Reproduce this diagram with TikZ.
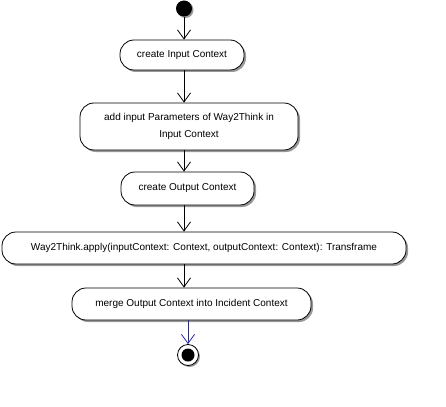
\documentclass[tikz,border=0pt]{standalone}
\usepackage{fontspec}
\setmainfont{Liberation Sans}
\usetikzlibrary{arrows.meta,shadows,calc}
\begin{document}
\begin{tikzpicture}[x=1pt,y=-1pt,
  act/.style={draw,line width=0.8pt,fill=white,rounded corners=14pt,align=center,
    font=\fontsize{10}{17}\selectfont,inner sep=0pt,
    drop shadow={shadow xshift=2pt,shadow yshift=-2pt,fill=black!40,opacity=1}},
  flow/.style={line width=0.8pt,-{Straight Barb[length=9pt,width=13pt,line width=0.8pt]}},
]
\useasboundingbox (0,0) rectangle (446,406);
\node[circle,fill=black,minimum size=16pt,inner sep=0pt,
  drop shadow={shadow xshift=1.5pt,shadow yshift=-1.5pt,fill=black!40,opacity=1}] (start) at (184,8.5) {};
\node[act,minimum width=124pt,minimum height=30pt] (b1) at (182,55) {create Input Context};
\node[act,minimum width=218pt,minimum height=47pt] (b2) at (189,126.5) {add input Parameters of Way2Think in\\Input Context};
\node[act,minimum width=133pt,minimum height=33pt] (b3) at (187.5,188.5) {create Output Context};
\node[act,minimum width=404pt,minimum height=32pt] (b4) at (204,248) {Way2Think.apply(inputContext: Context, outputContext: Context): Transframe};
\node[act,minimum width=239pt,minimum height=32pt] (b5) at (191.5,304) {merge Output Context into Incident Context};
\node[circle,draw,line width=0.8pt,fill=white,minimum size=21pt,inner sep=0pt,
  drop shadow={shadow xshift=1.5pt,shadow yshift=-1.5pt,fill=black!40,opacity=1}] (end) at (188,355) {};
\node[circle,fill=black,minimum size=13pt,inner sep=0pt] (endin) at (end) {};
\draw[flow] (start) -- (start |- b1.north);
\draw[flow] (start |- b1.south) -- (start |- b2.north);
\draw[flow] (start |- b2.south) -- (start |- b3.north);
\draw[flow] (start |- b3.south) -- (start |- b4.north);
\draw[flow] (start |- b4.south) -- (start |- b5.north);
\draw[flow,draw={rgb,255:red,40;green,40;blue,170},-{Straight Barb[length=9pt,width=13pt,line width=0.8pt]}] (end |- b5.south) -- (end.north);
\end{tikzpicture}
\end{document}
